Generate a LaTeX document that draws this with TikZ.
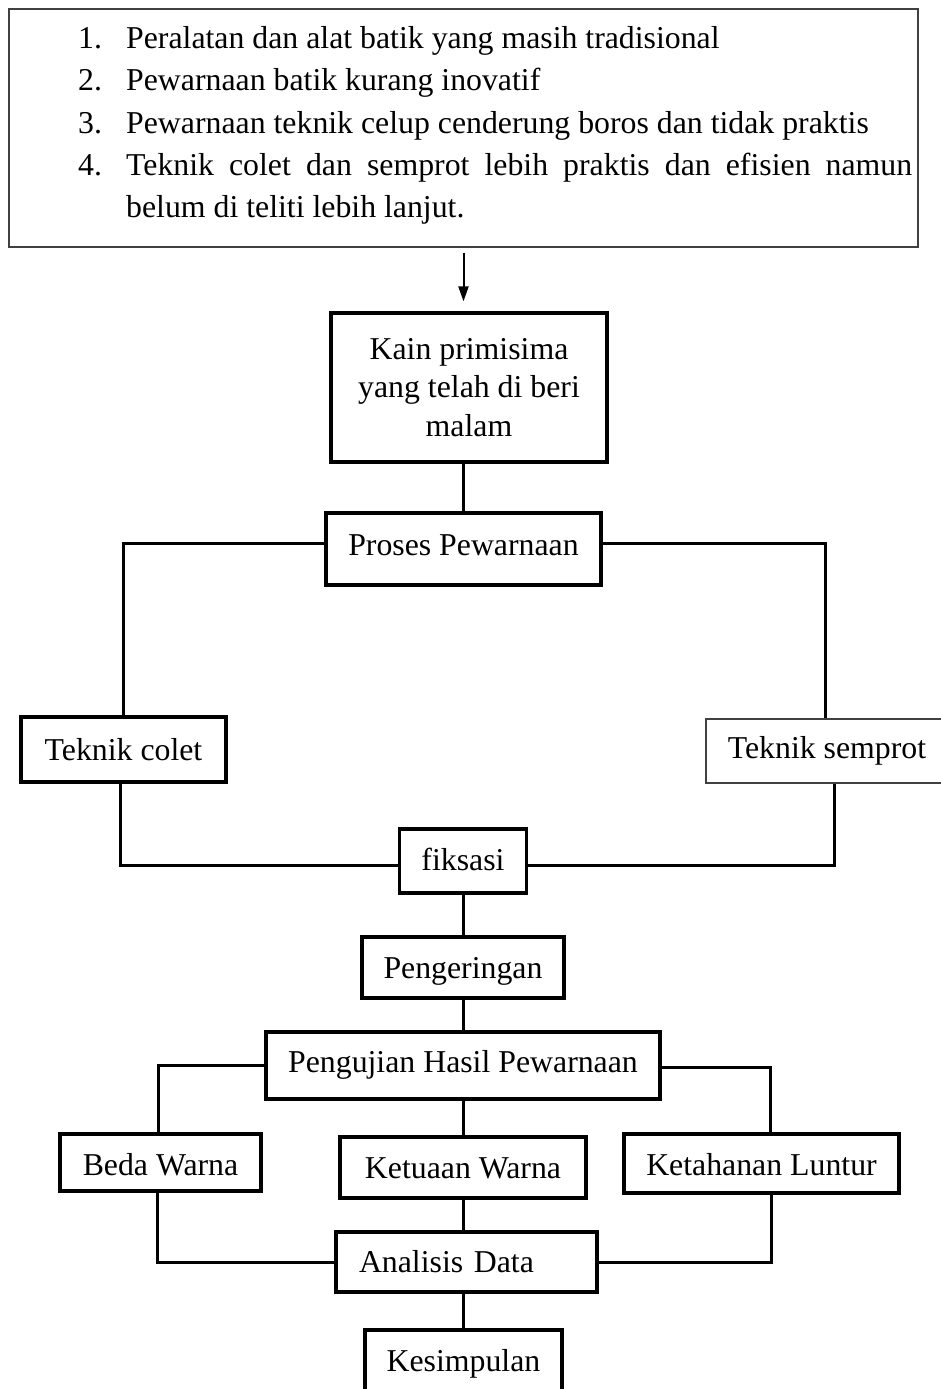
\documentclass[tikz,border=0pt]{standalone}
\usepackage{fontspec}
\setmainfont{Liberation Serif}
\usetikzlibrary{arrows.meta}
\tikzset{
  thickbox/.style={draw=black, line width=3.2pt, inner sep=0pt, align=center,
    font=\fontsize{31.8}{38.5}\selectfont, text height=28pt, text depth=7pt},
  thinbox/.style={draw=black!75, line width=1.3pt, inner sep=0pt, align=center,
    font=\fontsize{31.8}{38.5}\selectfont, text height=21pt, text depth=7pt},
  conn/.style={draw=black, line width=3pt},
  arr/.style={draw=black, line width=2pt, -{Triangle[length=15pt,width=10pt]}},
}
\begin{document}
\begin{tikzpicture}[x=1pt,y=-1pt]
\clip (0,0) rectangle (941,1389);
\fill[white] (0,0) rectangle (941,1389);

% top problem box
\node[draw=black!75, line width=1.3pt, minimum width=909pt, minimum height=238pt, inner sep=0pt] (top) at (463.5,128) {};
\node[anchor=north west, inner sep=0pt, text width=834pt, align=justify,
      font=\fontsize{31.8}{42.2}\selectfont] (list) at (78,18.96) {%
\parindent=0pt\parskip=0pt
\hangindent=48pt\hangafter=1\strut\makebox[48pt][l]{1.}Peralatan dan alat batik yang masih tradisional\par
\hangindent=48pt\hangafter=1\strut\makebox[48pt][l]{2.}Pewarnaan batik kurang inovatif\par
\hangindent=48pt\hangafter=1\strut\makebox[48pt][l]{3.}Pewarnaan teknik celup cenderung boros dan tidak praktis\par
\hangindent=48pt\hangafter=1\strut\makebox[48pt][l]{4.}Teknik colet dan semprot lebih praktis dan efisien namun\linebreak belum di teliti lebih lanjut.\par};

% boxes
\node[thickbox, minimum width=276pt, minimum height=149pt, text height=, text depth=] (kain) at (469,387.5) {Kain primisima\\yang telah di beri\\malam};
\node[thickbox, minimum width=275pt, minimum height=72pt, text height=19pt] (proses) at (463.5,549) {Proses Pewarnaan};
\node[thickbox, minimum width=205pt, minimum height=65pt] (colet) at (123.5,749.5) {Teknik colet};
\node[thinbox, minimum width=242pt, minimum height=64pt] (semprot) at (827,751) {Teknik semprot};
\node[thickbox, minimum width=127pt, minimum height=64pt, text height=25pt] (fiksasi) at (463,861) {fiksasi};
\node[thickbox, minimum width=202pt, minimum height=61pt] (pengeringan) at (463,967.5) {Pengeringan};
\node[thickbox, minimum width=394pt, minimum height=67pt, text height=20pt] (pengujian) at (463,1065.5) {Pengujian Hasil Pewarnaan};
\node[thickbox, minimum width=201pt, minimum height=57pt, text height=33pt] (beda) at (160.5,1162.5) {Beda Warna};
\node[thickbox, minimum width=246pt, minimum height=61pt] (ketuaan) at (463,1167.5) {Ketuaan Warna};
\node[thickbox, minimum width=275pt, minimum height=59pt, text height=30pt] (ketahanan) at (761.5,1163.5) {Ketahanan Luntur};
\node[thickbox, minimum width=261pt, minimum height=60pt, inner xsep=23pt, text width=215pt, align=left] (analisis) at (466.5,1262) {Analisis Data};
\node[thickbox, minimum width=197pt, minimum height=62pt] (kesimpulan) at (463.5,1361) {Kesimpulan};

% connectors
\draw[arr, shorten <=5pt, shorten >=10pt] (top.south) -- (top.south |- kain.north);
\draw[conn] (kain.south -| proses.north) -- (proses.north);
\draw[conn] ([yshift=6pt]proses.west) -| (colet.north);
\draw[conn] ([yshift=6pt]proses.east) -| ([xshift=-2pt]semprot.north);
\draw[conn] ([xshift=-3.5pt]colet.south) |- ([yshift=-4pt]fiksasi.west);
\draw[conn] ([xshift=7pt]semprot.south) |- ([yshift=-4pt]fiksasi.east);
\draw[conn] (fiksasi.south) -- (pengeringan.north);
\draw[conn] (pengeringan.south) -- (pengujian.north);
\draw[conn] (pengujian.west) -| ([xshift=-2.5pt]beda.north);
\draw[conn] ([yshift=-1.5pt]pengujian.east) -| ([xshift=8.5pt]ketahanan.north);
\draw[conn] (pengujian.south) -- (ketuaan.north);
\draw[conn] ([xshift=-3.5pt]beda.south) |- (analisis.west);
\draw[conn] (ketuaan.south) -- (ketuaan.south |- analisis.north);
\draw[conn] ([xshift=9.5pt]ketahanan.south) |- (analisis.east);
\draw[conn] (analisis.south -| kesimpulan.north) -- (kesimpulan.north);
\end{tikzpicture}
\end{document}
